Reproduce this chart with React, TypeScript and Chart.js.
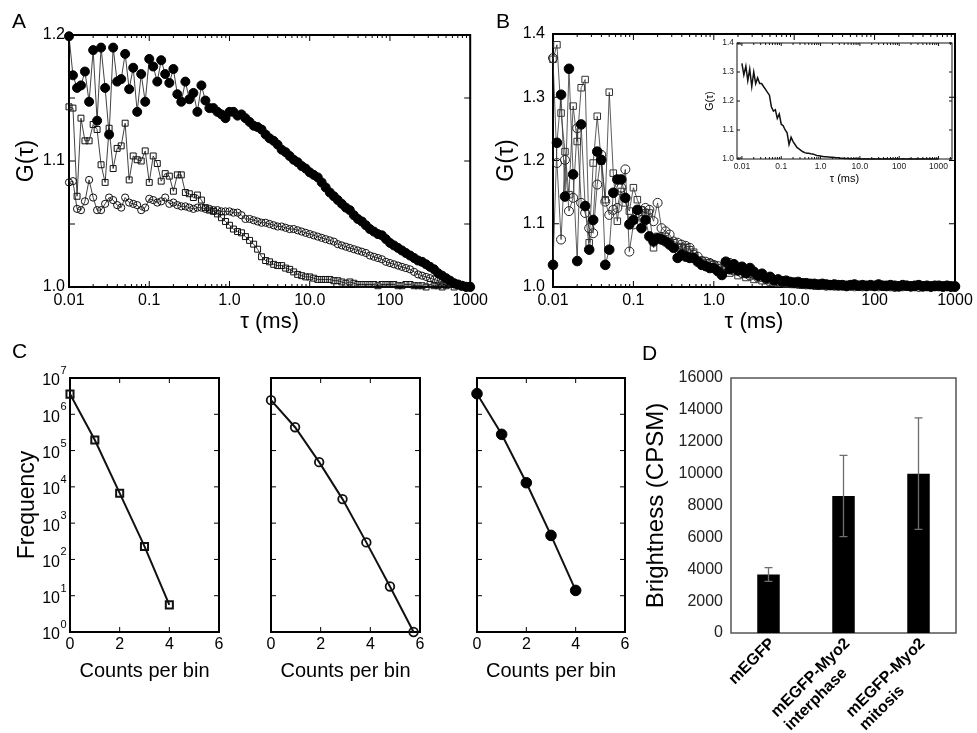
import React, { useEffect, useRef } from 'react';
import { Chart, registerables } from 'chart.js';

Chart.register(...registerables);

const FONT = "'Liberation Sans', Arial, Helvetica, sans-serif";

// ---------------- data ----------------
const TAU = [
  0.01, 0.0112, 0.0126, 0.0141, 0.0158, 0.0178, 0.02, 0.0224, 0.0251, 0.0282,
  0.0316, 0.0355, 0.0398, 0.0447, 0.0501, 0.0562, 0.0631, 0.0708, 0.0794, 0.0891,
  0.1, 0.112, 0.126, 0.141, 0.158, 0.178, 0.2, 0.224, 0.251, 0.282,
  0.316, 0.355, 0.398, 0.447, 0.501, 0.562, 0.631, 0.708, 0.794, 0.891,
  1, 1.12, 1.26, 1.41, 1.58, 1.78, 2, 2.24, 2.51, 2.82,
  3.16, 3.55, 3.98, 4.47, 5.01, 5.62, 6.31, 7.08, 7.94, 8.91,
  10, 11.2, 12.6, 14.1, 15.8, 17.8, 20, 22.4, 25.1, 28.2,
  31.6, 35.5, 39.8, 44.7, 50.1, 56.2, 63.1, 70.8, 79.4, 89.1,
  100, 112, 126, 141, 158, 178, 200, 224, 251, 282,
  316, 355, 398, 447, 501, 562, 631, 708, 794, 891,
  1000,
];

const A_FILLED = [
  1.199, 1.168, 1.158, 1.160, 1.171, 1.147, 1.188, 1.132, 1.190, 1.158,
  1.121, 1.190, 1.163, 1.165, 1.185, 1.157, 1.174, 1.139, 1.169, 1.147,
  1.181, 1.175, 1.163, 1.180, 1.169, 1.162, 1.173, 1.153, 1.147, 1.163,
  1.149, 1.154, 1.139, 1.160, 1.148, 1.142, 1.142, 1.139, 1.137, 1.134,
  1.139, 1.139, 1.136, 1.137, 1.134, 1.131, 1.128, 1.127, 1.125, 1.121,
  1.118, 1.116, 1.113, 1.109, 1.107, 1.104, 1.101, 1.099, 1.096, 1.094,
  1.091, 1.089, 1.087, 1.083, 1.079, 1.075, 1.072, 1.069, 1.066, 1.063,
  1.061, 1.057, 1.054, 1.052, 1.049, 1.046, 1.044, 1.042, 1.041, 1.038,
  1.035, 1.033, 1.031, 1.029, 1.027, 1.025, 1.023, 1.021, 1.020, 1.018,
  1.016, 1.014, 1.011, 1.009, 1.007, 1.005, 1.003, 1.002, 1.001, 1.000,
  1.000,
];

const A_SQUARE = [
  1.143, 1.142, 1.072, 1.134, 1.116, 1.116, 1.129, 1.125, 1.097, 1.083,
  1.126, 1.094, 1.110, 1.112, 1.130, 1.085, 1.104, 1.101, 1.100, 1.108,
  1.083, 1.104, 1.098, 1.084, 1.090, 1.088, 1.076, 1.089, 1.089, 1.075,
  1.074, 1.071, 1.073, 1.069, 1.063, 1.061, 1.060, 1.058, 1.055, 1.052,
  1.049, 1.046, 1.044, 1.043, 1.040, 1.037, 1.034, 1.030, 1.024, 1.021,
  1.020, 1.018, 1.017, 1.017, 1.015, 1.014, 1.012, 1.010, 1.009, 1.008,
  1.008, 1.007, 1.006, 1.006, 1.006, 1.006, 1.005, 1.005, 1.004, 1.003,
  1.004, 1.003, 1.002, 1.002, 1.002, 1.002, 1.002, 1.001, 1.002, 1.002,
  1.002, 1.002, 1.001, 1.001, 1.002, 1.002, 1.001, 1.001, 1.001, 1.000,
  1.002, 1.001, 1.001, 1.000, 1.001, 1.002, 1.000, 1.001, 1.000, 1.000,
  1.000,
];

const A_OPEN = [
  1.083, 1.084, 1.062, 1.061, 1.068, 1.085, 1.071, 1.061, 1.061, 1.066,
  1.071, 1.069, 1.065, 1.063, 1.071, 1.067, 1.066, 1.065, 1.061, 1.063,
  1.070, 1.069, 1.067, 1.068, 1.071, 1.066, 1.067, 1.065, 1.064, 1.064,
  1.063, 1.062, 1.063, 1.063, 1.062, 1.062, 1.061, 1.061, 1.060, 1.060,
  1.060, 1.059, 1.059, 1.057, 1.054, 1.054, 1.053, 1.052, 1.051, 1.051,
  1.050, 1.049, 1.048, 1.048, 1.047, 1.046, 1.046, 1.045, 1.044, 1.043,
  1.042, 1.041, 1.040, 1.039, 1.038, 1.037, 1.036, 1.034, 1.033, 1.032,
  1.031, 1.030, 1.029, 1.028, 1.027, 1.025, 1.024, 1.023, 1.022, 1.020,
  1.019, 1.018, 1.017, 1.016, 1.015, 1.014, 1.012, 1.010, 1.009, 1.008,
  1.007, 1.006, 1.005, 1.004, 1.004, 1.003, 1.002, 1.002, 1.001, 1.001,
  1.001,
];

const B_SQUARE = [
  1.360, 1.383, 1.275, 1.214, 1.146, 1.286, 1.230, 1.315, 1.328, 1.070,
  1.196, 1.270, 1.199, 1.138, 1.308, 1.180, 1.104, 1.151, 1.133, 1.120,
  1.157, 1.138, 1.122, 1.117, 1.117, 1.062, 1.080, 1.077, 1.080, 1.072,
  1.070, 1.062, 1.064, 1.062, 1.059, 1.055, 1.041, 1.042, 1.038, 1.038,
  1.035, 1.030, 1.022, 1.028, 1.022, 1.030, 1.018, 1.025, 1.015, 1.020,
  1.012, 1.018, 1.010, 1.014, 1.008, 1.011, 1.006, 1.009, 1.005, 1.007,
  1.004, 1.006, 1.003, 1.005, 1.003, 1.004, 1.002, 1.004, 1.002, 1.003,
  1.002, 1.001, 1.003, 1.001, 1.002, 1.001, 1.003, 1.001, 1.002, 1.001,
  1.000, 1.002, 1.001, 1.000, 1.002, 1.001, 1.000, 1.002, 1.001, 1.000,
  1.001, 1.002, 1.000, 1.001, 1.000, 1.002, 1.001, 1.000, 1.001, 1.000,
  1.001,
];

const B_FILLED = [
  1.035, 1.228, 1.304, 1.143, 1.345, 1.178, 1.041, 1.257, 1.128, 1.059,
  1.106, 1.214, 1.201, 1.035, 1.059, 1.149, 1.170, 1.170, 1.141, 1.099,
  1.106, 1.122, 1.093, 1.106, 1.080, 1.072, 1.077, 1.075, 1.072, 1.067,
  1.062, 1.046, 1.051, 1.048, 1.046, 1.046, 1.040, 1.035, 1.033, 1.030,
  1.030, 1.025, 1.019, 1.040, 1.028, 1.036, 1.026, 1.032, 1.022, 1.030,
  1.024, 1.018, 1.021, 1.014, 1.016, 1.011, 1.012, 1.009, 1.010, 1.008,
  1.007, 1.008, 1.006, 1.006, 1.005, 1.005, 1.004, 1.005, 1.004, 1.003,
  1.004, 1.003, 1.003, 1.002, 1.003, 1.004, 1.002, 1.003, 1.002, 1.003,
  1.002, 1.004, 1.002, 1.002, 1.003, 1.002, 1.001, 1.003, 1.002, 1.001,
  1.002, 1.003, 1.001, 1.002, 1.001, 1.002, 1.002, 1.001, 1.002, 1.001,
  1.001,
];

const B_OPEN = [
  1.362, 1.196, 1.075, 1.201, 1.120, 1.141, 1.251, 1.133, 1.117, 1.093,
  1.085, 1.162, 1.209, 1.135, 1.114, 1.122, 1.125, 1.157, 1.186, 1.056,
  1.099, 1.117, 1.120, 1.125, 1.122, 1.104, 1.133, 1.093, 1.088, 1.083,
  1.072, 1.070, 1.067, 1.065, 1.062, 1.051, 1.048, 1.041, 1.040, 1.038,
  1.035, 1.033, 1.030, 1.034, 1.038, 1.026, 1.030, 1.022, 1.026, 1.018,
  1.020, 1.015, 1.016, 1.012, 1.013, 1.010, 1.009, 1.008, 1.008, 1.006,
  1.006, 1.005, 1.005, 1.004, 1.004, 1.003, 1.003, 1.003, 1.002, 1.003,
  1.002, 1.002, 1.002, 1.001, 1.002, 1.001, 1.002, 1.001, 1.001, 1.002,
  1.001, 1.001, 1.002, 1.001, 1.001, 1.000, 1.001, 1.001, 1.002, 1.001,
  1.001, 1.000, 1.001, 1.001, 1.000, 1.001, 1.001, 1.000, 1.001, 1.000,
  1.000,
];

const INSET_G = [
  1.33, 1.29, 1.32, 1.27, 1.31, 1.25, 1.30, 1.26, 1.28, 1.26,
  1.26, 1.25, 1.24, 1.23, 1.22, 1.18, 1.165, 1.17, 1.14, 1.155,
  1.12, 1.115, 1.10, 1.09, 1.05, 1.075, 1.06, 1.05, 1.04, 1.035,
  1.03, 1.025, 1.022, 1.02, 1.02, 1.018, 1.017, 1.015, 1.012, 1.011,
  1.010, 1.009, 1.008, 1.008, 1.007, 1.006, 1.006, 1.005, 1.004, 1.004,
  1.003, 1.003, 1.002, 1.002, 1.002, 1.001, 1.001, 1.001, 1.001, 1.000,
  1.001, 1.000, 1.001, 1.000, 1.001, 1.000, 1.000, 1.001, 1.000, 1.000,
  1.001, 1.000, 1.000, 1.001, 1.000, 1.000, 1.001, 1.000, 1.000, 1.001,
  1.000, 1.000, 1.001, 1.000, 1.000, 1.001, 1.000, 1.000, 1.000, 1.001,
  1.000, 1.000, 1.001, 1.000, 1.000, 1.000, 1.001, 1.000, 1.000, 1.000,
  1.000,
];

const TAU_TICKS = [0.01, 0.1, 1, 10, 100, 1000];
const TAU_LABELS = ['0.01', '0.1', '1.0', '10.0', '100', '1000'];
const A_Y_TICKS = [1.0, 1.05, 1.1, 1.15, 1.2];
const A_Y_LABELS = ['1.0', '', '1.1', '', '1.2'];
const B_Y_TICKS = [1.0, 1.1, 1.2, 1.3, 1.4];
const B_Y_LABELS = ['1.0', '1.1', '1.2', '1.3', '1.4'];

const C1_X = [0, 1, 2, 3, 4];
const C1_Y = [3.6e6, 1.95e5, 6.7e3, 228, 5.6];
const C2_X = [0, 0.97, 1.94, 2.88, 3.84, 4.79, 5.74];
const C2_Y = [2.45e6, 4.4e5, 4.8e4, 4.6e3, 295, 18, 1];
const C3_X = [0, 1, 2, 3, 4];
const C3_Y = [3.7e6, 2.8e5, 1.3e4, 460, 14];
const C_X_TICKS = [0, 2, 4, 6];
const C_X_LABELS = ['0', '2', '4', '6'];
const C_Y_TICKS = [1, 10, 100, 1e3, 1e4, 1e5, 1e6, 1e7];
const C_Y_EXP = ['0', '1', '2', '3', '4', '5', '6', '7'];

const D_CATS = [['mEGFP'], ['mEGFP-Myo2', 'interphase'], ['mEGFP-Myo2', 'mitosis']];
const D_VALUES = [3670, 8600, 10000];
const D_ERRORS = [430, 2550, 3500];
const D_Y_TICKS = [0, 2000, 4000, 6000, 8000, 10000, 12000, 14000, 16000];
const D_Y_LABELS = ['0', '2000', '4000', '6000', '8000', '10000', '12000', '14000', '16000'];

// ---------------- layout ----------------
const BOX = {
  A: { x: 0, y: 0, w: 492, h: 340 },
  B: { x: 480, y: 0, w: 497, h: 340 },
  I: { x: 695, y: 33, w: 272, h: 160 },
  C1: { x: 0, y: 340, w: 235, h: 350 },
  C2: { x: 235, y: 340, w: 200, h: 350 },
  C3: { x: 440, y: 340, w: 200, h: 350 },
  D: { x: 640, y: 340, w: 337, h: 393 },
};
const AREA = {
  A: { L: 69, T: 35, R: 471, B: 287 },
  B: { L: 553, T: 34, R: 955, B: 287 },
  I: { L: 737, T: 43, R: 952, B: 159 },
  C1: { L: 70, T: 378, R: 219, B: 632 },
  C2: { L: 271, T: 378, R: 420, B: 632 },
  C3: { L: 477, T: 378, R: 625, B: 632 },
  D: { L: 731, T: 378, R: 956, B: 633 },
};

function padding(box: any, area: any) {
  return { left: 0, bottom: 0, top: area.T - box.y, right: box.x + box.w - area.R };
}

function axis(o: any, horizontal: boolean) {
  return {
    type: o.type,
    min: o.min,
    max: o.max,
    bounds: 'data',
    position: horizontal ? 'bottom' : 'left',
    grid: { display: false, drawTicks: false },
    border: { display: false },
    afterBuildTicks: (s: any) => {
      s.ticks = o.ticks.map((v: number) => ({ value: v }));
    },
    afterFit: (s: any) => {
      if (horizontal) s.height = o.size;
      else s.width = o.size;
    },
    ticks: {
      display: o.showLabels !== false,
      autoSkip: false,
      maxRotation: 0,
      minRotation: 0,
      padding: o.pad || 0,
      color: o.color || '#000',
      font: { size: o.font || 16, family: FONT },
      callback: (_v: any, i: number) => (o.labels ? o.labels[i] : ''),
    },
    title: o.title
      ? {
          display: true,
          text: o.title.text,
          color: '#000',
          font: { size: o.title.size, family: FONT },
          padding: horizontal ? { top: 0, bottom: o.title.pad } : { top: o.title.pad, bottom: 0 },
        }
      : { display: false },
  };
}

function framePlugin(o: any) {
  return {
    id: 'frame',
    beforeDatasetsDraw(chart: any) {
      const { ctx, chartArea } = chart;
      const { left, right, top, bottom } = chartArea;
      const xs = chart.scales.x;
      const ys = chart.scales.y;
      ctx.save();
      ctx.strokeStyle = o.color;
      ctx.lineWidth = o.tickWidth || 1;
      const tickX = (v: number, len: number) => {
        const p = xs.getPixelForValue(v);
        ctx.beginPath();
        ctx.moveTo(p, bottom);
        ctx.lineTo(p, bottom - len);
        ctx.moveTo(p, top);
        ctx.lineTo(p, top + len);
        ctx.stroke();
      };
      const tickY = (v: number, len: number) => {
        const p = ys.getPixelForValue(v);
        ctx.beginPath();
        ctx.moveTo(left, p);
        ctx.lineTo(left + len, p);
        ctx.moveTo(right, p);
        ctx.lineTo(right - len, p);
        ctx.stroke();
      };
      if (o.major > 0) {
        xs.ticks.forEach((t: any) => tickX(t.value, o.major));
        ys.ticks.forEach((t: any) => tickY(t.value, o.major));
      }
      if (o.logMinorX) {
        const e0 = Math.floor(Math.log10(xs.min));
        const e1 = Math.ceil(Math.log10(xs.max));
        for (let e = e0; e <= e1; e++) {
          for (let m = 2; m <= 9; m++) {
            const v = m * Math.pow(10, e);
            if (v > xs.min && v < xs.max) tickX(v, o.minor);
          }
        }
      }
      ctx.lineWidth = o.width;
      ctx.strokeRect(left, top, right - left, bottom - top);
      ctx.restore();
    },
  };
}

function cYLabelPlugin() {
  return {
    id: 'cylabels',
    afterDraw(chart: any) {
      const ys = chart.scales.y;
      const { ctx, chartArea } = chart;
      ctx.save();
      ctx.fillStyle = '#000';
      C_Y_TICKS.forEach((v, i) => {
        const p = ys.getPixelForValue(v);
        const xr = chartArea.left - 10;
        ctx.font = `16px ${FONT}`;
        ctx.textAlign = 'right';
        ctx.textBaseline = 'middle';
        ctx.fillText('10', xr, p + 3);
        ctx.font = `11px ${FONT}`;
        ctx.textAlign = 'left';
        ctx.fillText(C_Y_EXP[i], xr + 0.5, p - 7);
      });
      ctx.restore();
    },
  };
}

function dLabelPlugin() {
  return {
    id: 'dlabels',
    afterDraw(chart: any) {
      const xs = chart.scales.x;
      const { ctx, chartArea } = chart;
      ctx.save();
      ctx.fillStyle = '#000';
      ctx.font = `bold 16px ${FONT}`;
      ctx.textBaseline = 'middle';
      ctx.textAlign = 'left';
      D_CATS.forEach((lines, i) => {
        const px = xs.getPixelForTick(i);
        const w = Math.max(...lines.map((l) => ctx.measureText(l).width));
        ctx.save();
        ctx.translate(px + 4, chartArea.bottom + 8);
        ctx.rotate(-Math.PI / 4);
        lines.forEach((l, j) => ctx.fillText(l, -w, j * 19));
        ctx.restore();
      });
      ctx.restore();
    },
  };
}

function dErrorPlugin() {
  return {
    id: 'derr',
    afterDatasetsDraw(chart: any) {
      const xs = chart.scales.x;
      const ys = chart.scales.y;
      const { ctx } = chart;
      ctx.save();
      ctx.strokeStyle = '#6e6e6e';
      ctx.lineWidth = 1.3;
      D_VALUES.forEach((v, i) => {
        const px = xs.getPixelForValue(i);
        const yt = ys.getPixelForValue(v + D_ERRORS[i]);
        const yb = ys.getPixelForValue(v - D_ERRORS[i]);
        ctx.beginPath();
        ctx.moveTo(px, yt);
        ctx.lineTo(px, yb);
        ctx.moveTo(px - 4, yt);
        ctx.lineTo(px + 4, yt);
        ctx.moveTo(px - 4, yb);
        ctx.lineTo(px + 4, yb);
        ctx.stroke();
      });
      ctx.restore();
    },
  };
}

const pts = (xs: number[], ys: number[]) => xs.map((x, i) => ({ x, y: ys[i] }));

function baseOptions(box: any, area: any, scales: any) {
  return {
    responsive: false,
    animation: false,
    events: [],
    layout: { padding: padding(box, area) },
    plugins: { legend: { display: false }, tooltip: { enabled: false }, title: { display: false } },
    scales,
  };
}

function series(data: any, style: any) {
  return {
    data,
    showLine: true,
    clip: false,
    tension: 0,
    pointHoverRadius: 0,
    ...style,
  };
}

function gCfg(key: 'A' | 'B', datasets: any[], yTicks: number[], yLabels: string[], yMax: number, yLabelPad: number) {
  const box = (BOX as any)[key];
  const area = (AREA as any)[key];
  return {
    type: 'line',
    data: { datasets },
    options: baseOptions(box, area, {
      x: axis(
        {
          type: 'logarithmic', min: 0.01, max: 1000, ticks: TAU_TICKS, labels: TAU_LABELS,
          size: box.y + box.h - area.B, font: 16, pad: 4,
          title: { text: 'τ (ms)', size: 22, pad: 4.8 },
        },
        true
      ),
      y: axis(
        {
          type: 'linear', min: 1.0, max: yMax, ticks: yTicks, labels: yLabels,
          size: area.L - box.x, font: 16, pad: yLabelPad,
          title: { text: 'G(τ)', size: 23, pad: 13.2 },
        },
        false
      ),
    }),
    plugins: [framePlugin({ color: '#000', width: 2, major: 6, minor: 3, logMinorX: true })],
  };
}

function cCfg(key: 'C1' | 'C2' | 'C3', datasets: any[], withYTitle: boolean) {
  const box = (BOX as any)[key];
  const area = (AREA as any)[key];
  const plugins: any[] = [framePlugin({ color: '#000', width: 2, major: 5, minor: 0 })];
  if (withYTitle) plugins.push(cYLabelPlugin());
  return {
    type: 'line',
    data: { datasets },
    options: baseOptions(box, area, {
      x: axis(
        {
          type: 'linear', min: 0, max: 6, ticks: C_X_TICKS, labels: C_X_LABELS,
          size: box.y + box.h - area.B, font: 16, pad: 3.4,
          title: { text: 'Counts per bin', size: 20, pad: 7 },
        },
        true
      ),
      y: axis(
        {
          type: 'logarithmic', min: 1, max: 1e7, ticks: C_Y_TICKS, showLabels: false,
          size: area.L - box.x, font: 16, pad: 0,
          title: withYTitle ? { text: 'Frequency', size: 23, pad: 14.2 } : undefined,
        },
        false
      ),
    }),
    plugins,
  };
}

function buildConfigs() {
  const lineA = { borderColor: '#111', borderWidth: 0.8 };
  const lineB = { borderColor: '#333', borderWidth: 0.8 };
  const cfgA = gCfg(
    'A',
    [
      series(pts(TAU, A_FILLED), { ...lineA, pointStyle: 'circle', pointRadius: 4.5, pointBackgroundColor: '#000', pointBorderColor: '#000', pointBorderWidth: 1 }),
      series(pts(TAU, A_OPEN), { ...lineA, pointStyle: 'circle', pointRadius: 3.6, pointBackgroundColor: 'rgba(0,0,0,0)', pointBorderColor: '#111', pointBorderWidth: 1 }),
      series(pts(TAU, A_SQUARE), { ...lineA, pointStyle: 'rect', pointRadius: 4.2, pointBackgroundColor: 'rgba(0,0,0,0)', pointBorderColor: '#111', pointBorderWidth: 1 }),
    ],
    A_Y_TICKS,
    A_Y_LABELS,
    1.2,
    4
  );
  const cfgB = gCfg(
    'B',
    [
      series(pts(TAU, B_FILLED), { ...lineB, pointStyle: 'circle', pointRadius: 4.8, pointBackgroundColor: '#000', pointBorderColor: '#000', pointBorderWidth: 1 }),
      series(pts(TAU, B_OPEN), { ...lineB, pointStyle: 'circle', pointRadius: 4.5, pointBackgroundColor: 'rgba(0,0,0,0)', pointBorderColor: '#222', pointBorderWidth: 1 }),
      series(pts(TAU, B_SQUARE), { ...lineB, pointStyle: 'rect', pointRadius: 4.6, pointBackgroundColor: 'rgba(0,0,0,0)', pointBorderColor: '#333', pointBorderWidth: 1 }),
    ],
    B_Y_TICKS,
    B_Y_LABELS,
    1.4,
    8
  );

  const bi = BOX.I;
  const ai = AREA.I;
  const cfgI = {
    type: 'line',
    data: {
      datasets: [series(pts(TAU, INSET_G), { borderColor: '#111', borderWidth: 1.5, pointRadius: 0 })],
    },
    options: baseOptions(bi, ai, {
      x: axis(
        {
          type: 'logarithmic', min: 0.0075, max: 2200, ticks: TAU_TICKS, labels: TAU_LABELS,
          size: bi.y + bi.h - ai.B, font: 8.5, pad: 3, color: '#222',
          title: { text: 'τ (ms)', size: 11, pad: 7.4 },
        },
        true
      ),
      y: axis(
        {
          type: 'linear', min: 1.0, max: 1.4, ticks: B_Y_TICKS, labels: B_Y_LABELS,
          size: ai.L - bi.x, font: 8.5, pad: 3, color: '#222',
          title: { text: 'G(τ)', size: 10.5, pad: 8.7 },
        },
        false
      ),
    }),
    plugins: [framePlugin({ color: '#111', width: 1, major: 3, minor: 2, logMinorX: true })],
  };

  const cfgC1 = cCfg(
    'C1',
    [series(pts(C1_X, C1_Y), { borderColor: '#111', borderWidth: 2, pointStyle: 'rect', pointRadius: 5, pointBackgroundColor: 'rgba(0,0,0,0)', pointBorderColor: '#111', pointBorderWidth: 2 })],
    true
  );
  const cfgC2 = cCfg(
    'C2',
    [series(pts(C2_X, C2_Y), { borderColor: '#111', borderWidth: 2, pointStyle: 'circle', pointRadius: 4.3, pointBackgroundColor: 'rgba(0,0,0,0)', pointBorderColor: '#111', pointBorderWidth: 1.8 })],
    false
  );
  const cfgC3 = cCfg(
    'C3',
    [series(pts(C3_X, C3_Y), { borderColor: '#111', borderWidth: 2, pointStyle: 'circle', pointRadius: 5.3, pointBackgroundColor: '#000', pointBorderColor: '#000', pointBorderWidth: 1 })],
    false
  );

  const bd = BOX.D;
  const ad = AREA.D;
  const cfgD = {
    type: 'bar',
    data: {
      labels: D_CATS,
      datasets: [
        {
          data: D_VALUES,
          backgroundColor: '#000',
          borderColor: '#000',
          borderWidth: 0,
          barPercentage: 0.3,
          categoryPercentage: 1,
        },
      ],
    },
    options: baseOptions(bd, ad, {
      x: {
        type: 'category',
        offset: true,
        position: 'bottom',
        grid: { display: false, drawTicks: false },
        border: { display: false },
        ticks: { display: false },
        afterFit: (s: any) => {
          s.height = bd.y + bd.h - ad.B;
        },
      },
      y: axis(
        {
          type: 'linear', min: 0, max: 16000, ticks: D_Y_TICKS, labels: D_Y_LABELS,
          size: ad.L - bd.x, font: 16, pad: 8, color: '#222',
          title: { text: 'Brightness (CPSM)', size: 24, pad: 1.6 },
        },
        false
      ),
    }),
    plugins: [framePlugin({ color: '#555', width: 1.5, major: 0, minor: 0 }), dErrorPlugin(), dLabelPlugin()],
  };

  return { A: cfgA, B: cfgB, I: cfgI, C1: cfgC1, C2: cfgC2, C3: cfgC3, D: cfgD };
}

const ORDER = ['A', 'B', 'I', 'C1', 'C2', 'C3', 'D'];

const LETTERS = [
  { t: 'A', x: 12, y: 10 },
  { t: 'B', x: 496, y: 10 },
  { t: 'C', x: 12, y: 340 },
  { t: 'D', x: 642, y: 342 },
];

export default function App() {
  const refs = useRef<Record<string, HTMLCanvasElement | null>>({});

  useEffect(() => {
    Chart.defaults.font.family = FONT;
    Chart.defaults.color = '#000';
    const cfgs: any = buildConfigs();
    const charts: Chart[] = [];
    ORDER.forEach((k) => {
      const c = refs.current[k];
      if (c) charts.push(new Chart(c, cfgs[k]));
    });
    return () => charts.forEach((c) => c.destroy());
  }, []);

  return (
    <div
      style={{
        position: 'absolute',
        left: 0,
        top: 0,
        width: 977,
        height: 733,
        background: '#fff',
        overflow: 'hidden',
        fontFamily: FONT,
      }}
    >
      {ORDER.map((k) => {
        const b = (BOX as any)[k];
        return (
          <canvas
            key={k}
            ref={(el) => {
              refs.current[k] = el;
            }}
            width={b.w}
            height={b.h}
            style={{ position: 'absolute', left: b.x, top: b.y, width: b.w, height: b.h }}
          />
        );
      })}
      {LETTERS.map((l) => (
        <div
          key={l.t}
          style={{
            position: 'absolute',
            left: l.x,
            top: l.y,
            fontSize: 21,
            lineHeight: 1,
            color: '#000',
            fontFamily: FONT,
          }}
        >
          {l.t}
        </div>
      ))}
    </div>
  );
}
